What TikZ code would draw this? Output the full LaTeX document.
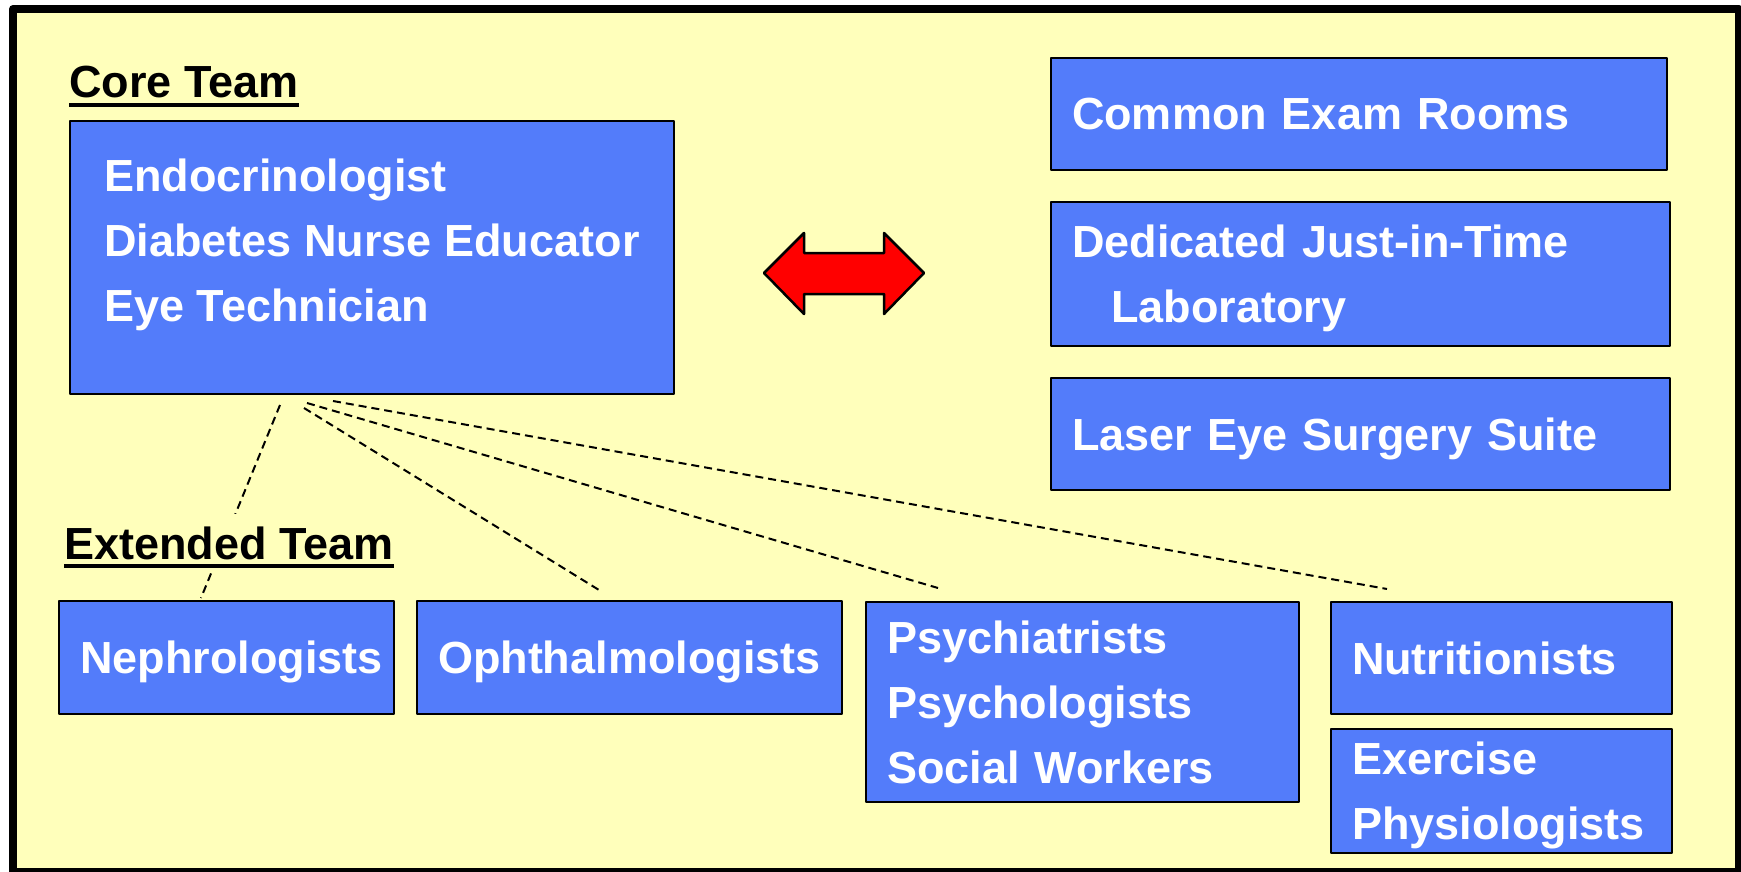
\documentclass[tikz,border=0pt]{standalone}
\usepackage{fontspec}
\setmainfont{Liberation Sans}
\usepackage{tikz}
\definecolor{ffffbb}{rgb}{1.0,1.0,0.7333}
\definecolor{vtxcfa}{rgb}{0.3255,0.4863,0.9804}
\definecolor{ffqqqq}{rgb}{1.0,0.0,0.0}
\begin{document}
\begin{tikzpicture}[line join=round,x=1pt,y=-1pt,
  unitbox/.style={draw=black,line width=2.5pt,fill=vtxcfa,text=white,anchor=north west,
    inner xsep=21pt,inner ysep=0pt,outer sep=0pt,align=left,
    font={\fontsize{45}{65}\selectfont\bfseries\hyphenpenalty=10000}},
  teamtitle/.style={anchor=base west,inner sep=0pt,font={\fontsize{45}{54}\selectfont\bfseries}},
  teamlink/.style={dash pattern=on 8pt off 5pt,line width=2pt}]
\useasboundingbox (0,0) rectangle (1741,872);
\draw [line width=8pt,fill=ffffbb] (13,9) rectangle (1739,872);
% core team
\node[teamtitle] (coretitle) at (69,98) {Core Team};
\draw [line width=4pt] ([yshift=-7pt]coretitle.base west)-- ([yshift=-7pt]coretitle.base east);
\node[unitbox,inner xsep=0pt,minimum width=604pt,minimum height=273pt] (core) at (70,121)
  {Endocrinologist\\Diabetes Nurse Educator\\Eye Technician\rule[-34pt]{0pt}{0pt}};
% rooms
\node[unitbox,text width=574pt,minimum height=112pt] (exam) at (1051,58) {Common Exam Rooms};
\node[unitbox,text width=577pt,minimum height=144pt,text depth=65pt] (lab) at (1051,202)
  {Dedicated Just-in-Time\\\hspace*{39pt}Laboratory};
\node[unitbox,text width=577pt,minimum height=112pt,text depth=0pt] (laser) at (1051,378) {Laser Eye Surgery Suite};
\fill [color=ffqqqq,draw=black,line width=2.5pt] (764,273)-- (804,233)-- (804,253)-- (884,253)-- (884,233)-- (924,273)
  -- (884,314)-- (884,294)-- (804,294)-- (804,314)-- cycle;
% extended team
\node[unitbox,text width=293pt,minimum height=113pt,text depth=0pt] (neph) at (59,601) {Nephrologists};
\node[unitbox,text width=383pt,minimum height=113pt,text depth=0pt] (ophth) at (417,601) {Ophthalmologists};
\node[unitbox,text width=391pt,minimum height=200pt] (psych) at (866,602)
  {Psychiatrists\\Psychologists\\Social Workers};
\node[unitbox,text width=299pt,minimum height=112pt] (nutr) at (1331,602) {Nutritionists};
\node[unitbox,text width=299pt,minimum height=124pt,text depth=65pt] (exer) at (1331,729) {Exercise\\Physiologists};
\coordinate (cneph) at (280,405);
\coordinate (cophth) at (304,408);
\coordinate (cpsych) at (307,403);
\coordinate (cnutr) at (333,401);
\coordinate (eneph) at (201,598);
\coordinate (eophth) at (599,590);
\coordinate (epsych) at (938,588);
\coordinate (enutr) at (1387,589);
\draw [teamlink] (cneph)-- (eneph);
\draw [teamlink] (cophth)-- (eophth);
\draw [teamlink] (cpsych)-- (epsych);
\draw [teamlink] (cnutr)-- (enutr);
\node[teamtitle,fill=ffffbb,inner ysep=12pt] (exttitle) at (64,559) {Extended Team};
\draw [line width=4pt] ([yshift=-7pt]exttitle.base west)-- ([yshift=-7pt]exttitle.base east);
\end{tikzpicture}
\end{document}
